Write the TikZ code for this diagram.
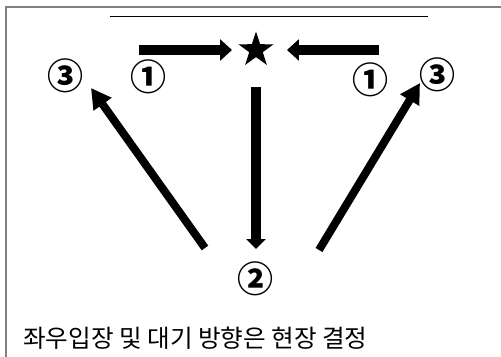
\documentclass[tikz,border=0pt]{standalone}
\usepackage{fontspec}
\newfontfamily\kr{Noto Sans CJK KR}
\usetikzlibrary{arrows.meta}
\usetikzlibrary{shapes.geometric}

\begin{document}
\begin{tikzpicture}[x=0.02cm, y=-0.02cm,
            fat/.style={line width=0.19cm, -{Triangle[length=0.24cm, width=0.42cm]}},
            slant/.style={line width=0.16cm, -{Triangle[length=0.4cm, width=0.42cm]}},
            num/.style={font=\kr\bfseries\fontsize{20.5}{20.5}\selectfont, inner sep=0pt},
        ]
            \useasboundingbox (0, 0) rectangle (501, 357);

            % frame and top rule
            \draw[line width=0.04cm, draw=gray] (6, 357) -- (6, 7.5) -- (501, 7.5);
            \draw[line width=0.02cm] (110, 17) -- (428, 17);

            % goal and the positions
            \node[star, star points=5, star point ratio=2.6, fill=black, inner sep=0pt, minimum size=0.74cm] (goal) at (256, 50) {};
            \node[num] (oneL) at (149, 77) {①};
            \node[num] (oneR) at (371, 80) {①};
            \node[num] (two) at (256, 279) {②};
            \node[num] (threeL) at (66, 76) {③};
            \node[num] (threeR) at (438, 75) {③};

            % free ends of the arrows
            \coordinate (inL) at (139, 50);
            \coordinate (inR) at (379, 50);
            \coordinate (outL) at (205, 248);
            \coordinate (outR) at (319, 250);
            \coordinate (tipL) at (91, 88);
            \coordinate (tipR) at (420, 83);

            \draw[fat, shorten >=0.48cm] (inL) -- (goal.center);
            \draw[fat, shorten >=0.62cm] (inR) -- (goal.center);
            \draw[fat, line width=0.2cm, -{Triangle[length=0.2cm, width=0.38cm]}, shorten <=0.74cm, shorten >=0.6cm] (goal.center) -- (two.center);
            \draw[slant] (outL) -- (tipL);
            \draw[slant] (outR) -- (tipR);

            \node[font=\kr\fontsize{14}{14}\selectfont, anchor=west] (note) at (17, 338) {좌우입장 및 대기 방향은 현장 결정};
        \end{tikzpicture}
\end{document}
